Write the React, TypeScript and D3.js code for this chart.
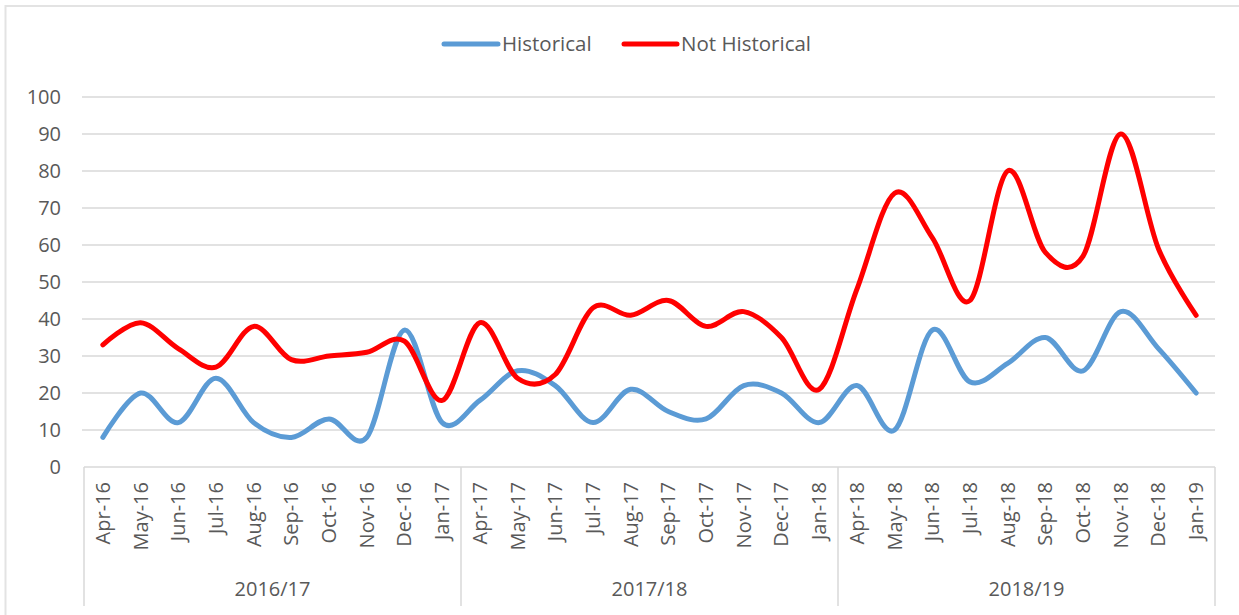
import React from "react";
import * as d3 from "d3";

const months = [
  "Apr-16","May-16","Jun-16","Jul-16","Aug-16","Sep-16","Oct-16","Nov-16","Dec-16","Jan-17",
  "Apr-17","May-17","Jun-17","Jul-17","Aug-17","Sep-17","Oct-17","Nov-17","Dec-17","Jan-18",
  "Apr-18","May-18","Jun-18","Jul-18","Aug-18","Sep-18","Oct-18","Nov-18","Dec-18","Jan-19",
];
const groups = ["2016/17", "2017/18", "2018/19"];
const groupSize = 10;
const historical = [8,20,12,24,12,8,13,8,37,12, 18,26,22,12,21,15,13,22,20,12, 22,10,37,23,28,35,26,42,32,20];
const notHistorical = [33,39,32,27,38,29,30,31,34,18, 39,24,25,43,41,45,38,42,35,21, 48,74,62,45,80,58,57,90,59,41];
const yTicks = [0,10,20,30,40,50,60,70,80,90,100];

const W = 1239, H = 615;
const left = 84, right = 1215, top = 97, bottom = 467;
const font = "'Open Sans', 'Noto Sans', sans-serif";
const textColor = "#595959";
const gridColor = "#d9d9d9";
const fs = 20;

export default function App() {
  const x = d3.scaleBand<string>().domain(months).range([left, right]);
  const y = d3.scaleLinear().domain([0, 100]).range([bottom, top]);
  const cx = (m: string) => (x(m) as number) + x.bandwidth() / 2;
  const line = d3.line<number>().x((_, i) => cx(months[i])).y((v) => y(v)).curve(d3.curveCardinal.tension(0));

  const sepXs = [0, 1, 2, 3].map((g) => g === 3 ? right : (x(months[g * groupSize]) as number));

  return (
    <svg width={W} height={H} style={{ position: "absolute", left: 0, top: 0, background: "#fff" }}>
      <rect x={5.5} y={6} width={W + 10} height={H + 10} fill="none" stroke="#e3e3e3" strokeWidth={2} />
      {yTicks.map((t) => (
        <g key={t}>
          {t > 0 && <line x1={82} x2={right} y1={y(t)} y2={y(t)} stroke={gridColor} strokeWidth={1.5} />}
          <text x={61} y={y(t)} dy="0.35em" textAnchor="end" fontFamily={font} fontSize={fs} fill={textColor}>{t}</text>
        </g>
      ))}
      <line x1={left} x2={right} y1={bottom} y2={bottom} stroke={gridColor} strokeWidth={1.5} />
      {sepXs.map((sx, i) => (
        <line key={i} x1={sx} x2={sx} y1={bottom} y2={606} stroke={gridColor} strokeWidth={1.5} />
      ))}
      {months.map((m) => (
        <text key={m} transform={`translate(${cx(m) + 7},${482}) rotate(-90)`} textAnchor="end" fontFamily={font} fontSize={fs} fill={textColor}>{m}</text>
      ))}
      {groups.map((g, i) => (
        <text key={g} x={(sepXs[i] + sepXs[i + 1]) / 2} y={596} textAnchor="middle" fontFamily={font} fontSize={fs} fill={textColor}>{g}</text>
      ))}
      <path d={line(historical) as string} fill="none" stroke="#5b9bd5" strokeWidth={5} strokeLinecap="round" strokeLinejoin="round" />
      <path d={line(notHistorical) as string} fill="none" stroke="#ff0000" strokeWidth={5} strokeLinecap="round" strokeLinejoin="round" />
      <g>
        <line x1={444} x2={498} y1={44} y2={44} stroke="#5b9bd5" strokeWidth={5} strokeLinecap="round" />
        <text x={502} y={44} dy="0.35em" fontFamily={font} fontSize={20.5} fill={textColor}>Historical</text>
        <line x1={624} x2={677} y1={44} y2={44} stroke="#ff0000" strokeWidth={5} strokeLinecap="round" />
        <text x={681} y={44} dy="0.35em" fontFamily={font} fontSize={20.5} fill={textColor}>Not Historical</text>
      </g>
    </svg>
  );
}
